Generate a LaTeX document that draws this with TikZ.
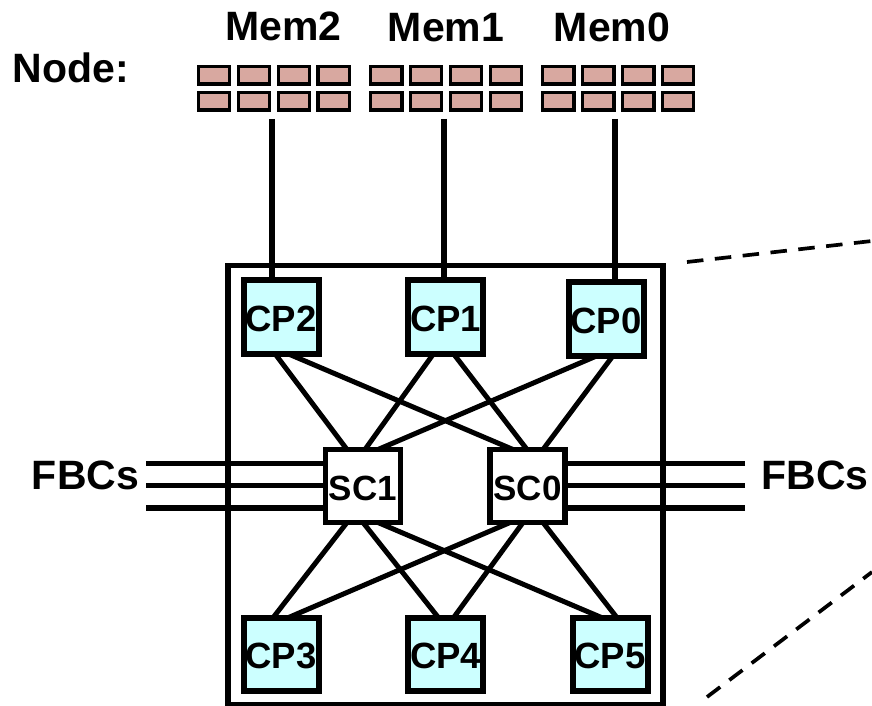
\documentclass[tikz,border=0pt]{standalone}
\usepackage{fontspec}
\setmainfont{Liberation Sans}
\begin{document}
\begin{tikzpicture}[x=1pt,y=-1pt,
  lbl/.style={font=\fontsize{41}{44}\selectfont\bfseries,inner sep=0pt,anchor=base},
  chip/.style={draw=black,line width=3.3pt,fill=chipc,minimum width=31.3pt,minimum height=17.5pt,inner sep=0pt,outer sep=0pt},
  cpu/.style={draw=black,line width=6pt,fill=cpc,minimum width=75pt,minimum height=73.5pt,inner sep=0pt,outer sep=0pt,font=\fontsize{36.5}{40}\selectfont\bfseries,text height=28.5pt,text depth=0pt},
  sc/.style={cpu,fill=white,line width=5.5pt,font=\fontsize{35}{40}\selectfont\bfseries,minimum height=73pt},
  wire/.style={line width=5.5pt,draw=black},
  xwire/.style={line width=5pt,draw=black},
  dashline/.style={line width=3.7pt,draw=black,dash pattern=on 16.5pt off 11.5pt}]
\definecolor{chipc}{HTML}{D8A8A0}
\definecolor{cpc}{HTML}{CCFFFF}
\useasboundingbox (0,0) rectangle (872,706);
\node[lbl] (m2) at (283.5,41) {Mem2};
\node[lbl] (m1) at (446,42) {Mem1};
\node[lbl] (m0) at (612,42) {Mem0};
\node[lbl] (nd) at (71,83) {Node:};
\foreach \gx/\g in {214/a,386.2/b,558.4/c}{
  \foreach \i in {0,1,2,3}{
    \node[chip] (chip\g\i t) at ({\gx+\i*39.9},75.3) {};
    \node[chip] (chip\g\i b) at ({\gx+\i*39.9},101.2) {};
  }
}
\node[draw=black,line width=5.5pt,minimum width=435pt,minimum height=439pt,inner sep=0pt,outer sep=0pt] (outer) at (445.5,485) {};
\node[cpu] (cp2) at (281,317) {CP2};
\node[cpu] (cp1) at (445.5,317) {CP1};
\node[cpu] (cp0) at (606,319) {CP0};
\node[cpu] (cp3) at (281,654.5) {CP3};
\node[cpu] (cp4) at (445.5,654.5) {CP4};
\node[cpu] (cp5) at (610,654.5) {CP5};
\node[sc] (sc1) at (363,486) {SC1};
\node[sc] (sc0) at (527.5,486) {SC0};
\coordinate (t2) at (272,119);
\coordinate (t1) at (444,119);
\coordinate (t0) at (615,119);
\draw[wire] (t2) -- (t2 |- cp2.north);
\draw[wire] (t1) -- (t1 |- cp1.north);
\draw[wire] (t0) -- (t0 |- cp0.north);
\draw[xwire] ([xshift=-6pt]cp2.south) -- ([xshift=-16pt]sc1.north);
\draw[xwire] ([xshift=7pt]cp2.south) -- ([xshift=-14.5pt]sc0.north);
\draw[xwire] ([xshift=-12pt]cp1.south) -- ([xshift=2pt]sc1.north);
\draw[xwire] ([xshift=8pt]cp1.south) -- ([xshift=-0.5pt]sc0.north);
\draw[xwire] ([xshift=-9pt]cp0.south) -- ([xshift=15pt]sc1.north);
\draw[xwire] ([xshift=7pt]cp0.south) -- ([xshift=15.5pt]sc0.north);
\draw[xwire] ([xshift=-8pt]cp3.north) -- ([xshift=-16pt]sc1.south);
\draw[xwire] ([xshift=7pt]cp3.north) -- ([xshift=-17.5pt]sc0.south);
\draw[xwire] ([xshift=-7pt]cp4.north) -- ([xshift=0pt]sc1.south);
\draw[xwire] ([xshift=8pt]cp4.north) -- ([xshift=-4.5pt]sc0.south);
\draw[xwire] ([xshift=-8pt]cp5.north) -- ([xshift=15pt]sc1.south);
\draw[xwire] ([xshift=7pt]cp5.north) -- ([xshift=15.5pt]sc0.south);
\foreach \y/\n in {463.5/a,485.7/b,508/c}{
  \coordinate (fl\n) at (146,\y);
  \coordinate (fr\n) at (745,\y);
  \draw[wire] (fl\n) -- (fl\n -| sc1.west);
  \draw[wire] (fr\n) -- (fr\n -| sc0.east);
}
\node[lbl] (fbl) at (85.5,489) {FBCs};
\node[lbl] (fbr) at (815,489) {FBCs};
\coordinate (d1a) at (687,262);
\coordinate (d1b) at (872,241);
\coordinate (d2a) at (707,697);
\coordinate (d2b) at (872,572);
\draw[dashline] (d1a) -- (d1b);
\draw[dashline] (d2a) -- (d2b);
\end{tikzpicture}
\end{document}
